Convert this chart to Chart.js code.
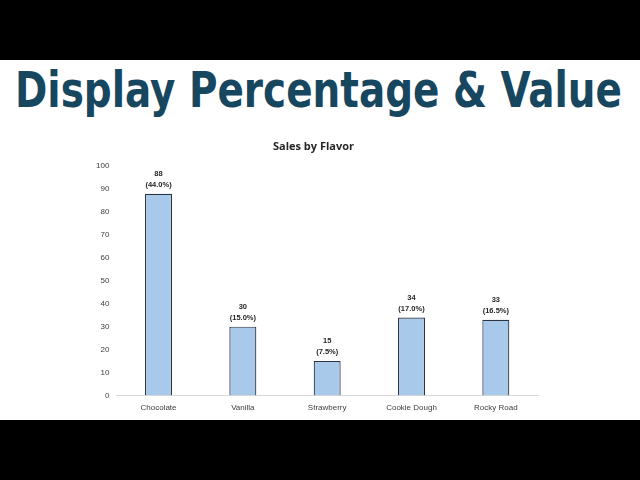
<!DOCTYPE html>
<html>
<head>
<meta charset="utf-8">
<script src="https://cdn.jsdelivr.net/npm/chart.js@4"></script>
<style>
  html, body { margin: 0; padding: 0; background: #000; width: 640px; height: 480px; overflow: hidden; }
  #white { position: absolute; left: 0; top: 60px; width: 640px; height: 360px; background: #fff; }
  #headline { position: absolute; left: 0; top: 0; white-space: nowrap; font-family: "DejaVu Sans Condensed", "DejaVu Sans", sans-serif; font-weight: bold; font-size: 50px; color: #17465f; transform-origin: 0 0; line-height: 1; }
  #wrap { position: absolute; left: 0; top: 130px; width: 640px; height: 292px; }
</style>
</head>
<body>
<div id="white"></div>
<div id="headline">Display Percentage &amp; Value</div>
<div id="wrap"><canvas id="c" width="640" height="292"></canvas></div>
<script>
const categories = ["Chocolate", "Vanilla", "Strawberry", "Cookie Dough", "Rocky Road"];
const sales = [88, 30, 15, 34, 33];
const percentLabels = ["44.0%", "15.0%", "7.5%", "17.0%", "16.5%"];
const yTicks = [0, 10, 20, 30, 40, 50, 60, 70, 80, 90, 100];

// fit headline to reference width
(function () {
  const h = document.getElementById('headline');
  const w = h.getBoundingClientRect().width;
  const target = 607;
  const sx = target / w;
  h.style.transform = 'translate(15px, 65px) scaleX(' + sx + ')';
})();

const labelPlugin = {
  id: 'valuePct',
  afterDatasetsDraw(chart) {
    const ctx = chart.ctx;
    const meta = chart.getDatasetMeta(0);
    ctx.save();
    ctx.fillStyle = '#262626';
    ctx.textAlign = 'center';
    ctx.textBaseline = 'bottom';
    ctx.font = 'bold 7.5px "Liberation Sans", sans-serif';
    meta.data.forEach((bar, i) => {
      const x = bar.x;
      const y = bar.y;
      ctx.fillText('(' + percentLabels[i] + ')', x, y - 5);
      ctx.fillText(String(sales[i]), x, y - 16);
    });
    ctx.restore();
  }
};

new Chart(document.getElementById('c'), {
  type: 'bar',
  data: {
    labels: categories,
    datasets: [{
      data: sales,
      backgroundColor: '#a9c9eb',
      borderColor: '#2b3442',
      borderWidth: 1.2,
      barPercentage: 0.64,
      categoryPercentage: 0.5
    }]
  },
  options: {
    responsive: false,
    animation: false,
    devicePixelRatio: 1,
    layout: { padding: { left: 89, right: 102, top: 0, bottom: 1 } },
    plugins: {
      legend: { display: false },
      tooltip: { enabled: false },
      title: {
        display: true,
        text: 'Sales by Flavor',
        color: '#262626',
        font: { family: '"Open Sans", sans-serif', size: 11, weight: 'bold' },
        padding: { top: 10, bottom: 13 }
      }
    },
    scales: {
      x: {
        grid: { display: false, drawTicks: false },
        border: { display: true, color: '#d9d9d9', width: 1 },
        ticks: { color: '#404040', font: { family: '"Liberation Sans", sans-serif', size: 8 }, padding: 8 }
      },
      y: {
        min: 0, max: 100,
        afterBuildTicks(axis) { axis.ticks = yTicks.map(v => ({ value: v })); },
        grid: { display: false, drawTicks: false },
        border: { display: false },
        ticks: { color: '#404040', font: { family: '"Liberation Sans", sans-serif', size: 8 }, padding: 7 }
      }
    }
  },
  plugins: [labelPlugin]
});
</script>
</body>
</html>
